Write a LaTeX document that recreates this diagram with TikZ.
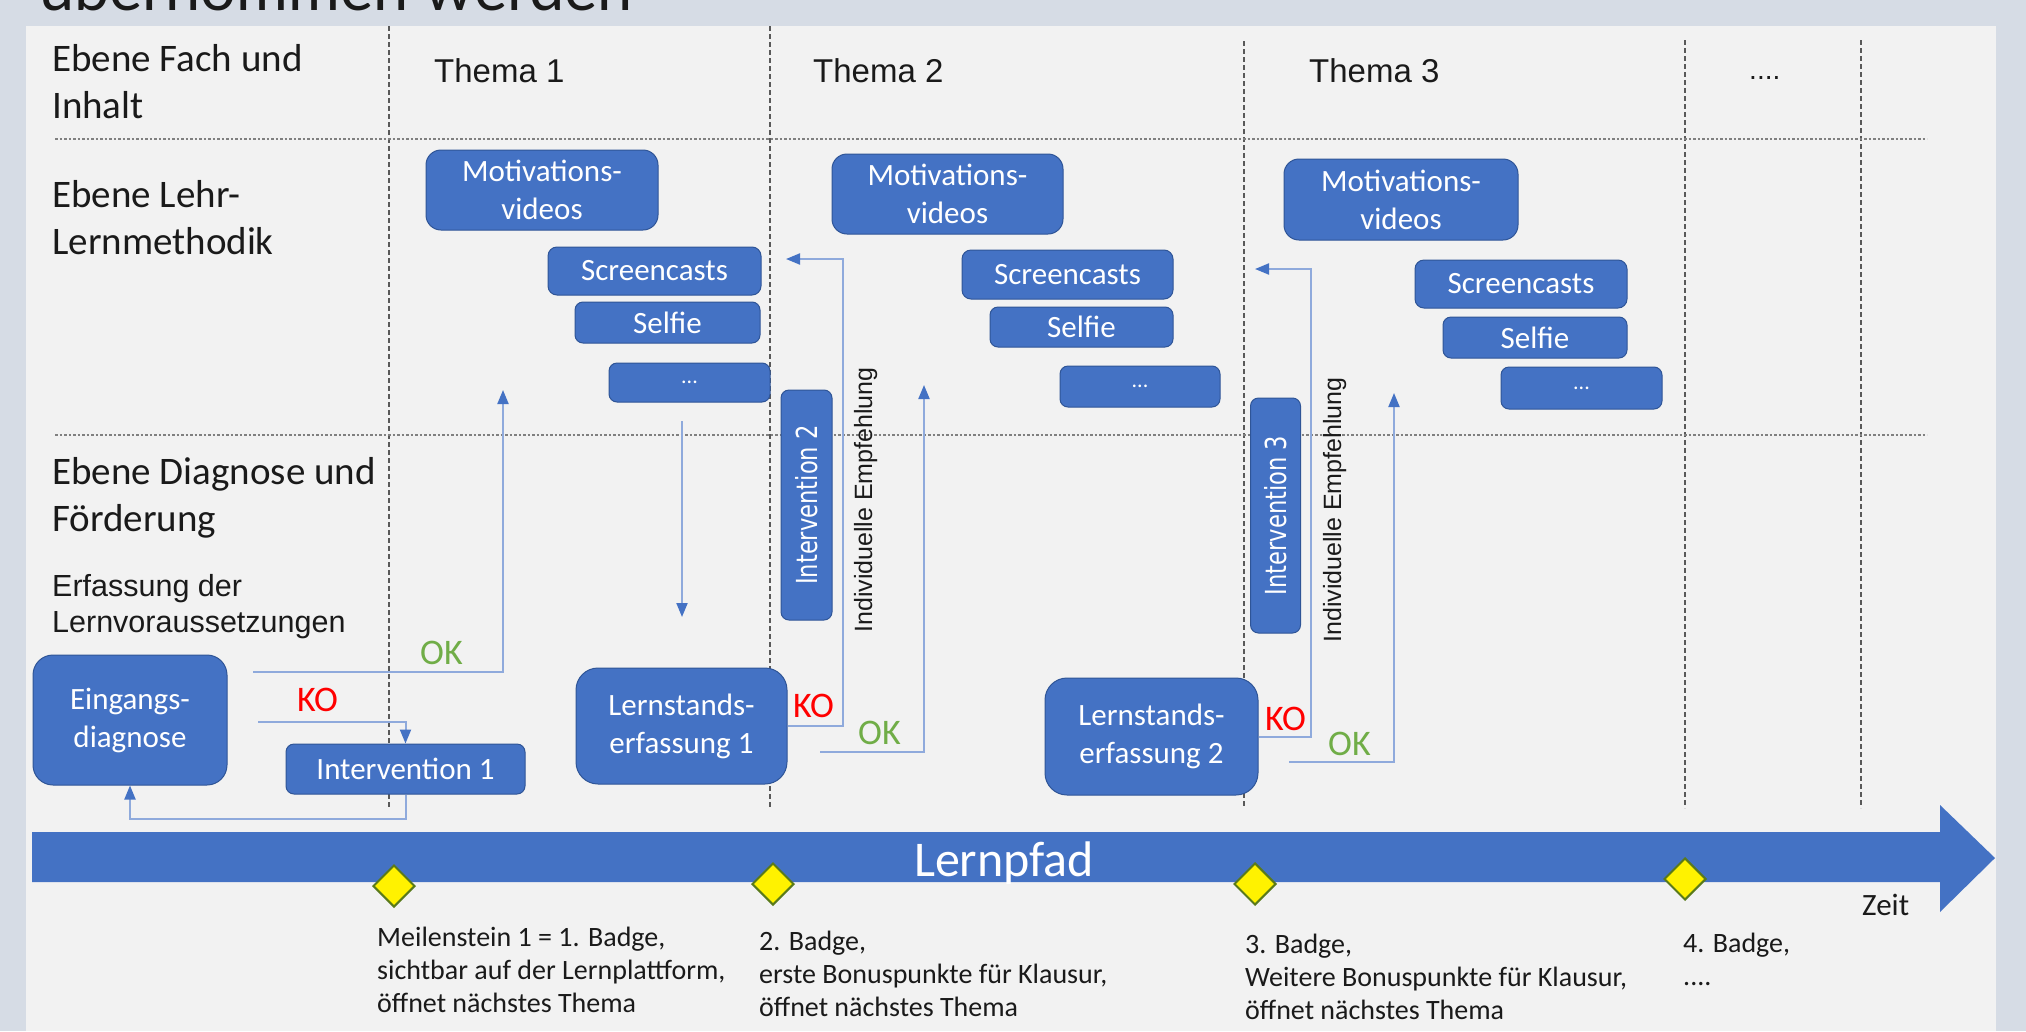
\documentclass[tikz,border=0pt]{standalone}
\usepackage{fontspec}
\setmainfont{Carlito}
\newfontfamily\arialf{Liberation Sans}
\newfontfamily\dejaf{DejaVu Sans}
\newfontfamily\latof{Lato}
\usetikzlibrary{shapes.geometric,arrows.meta}
\definecolor{bgc}{HTML}{D6DCE5}
\definecolor{panelc}{HTML}{F2F2F2}
\definecolor{boxblue}{HTML}{4472C4}
\definecolor{boxedge}{HTML}{2F5597}
\definecolor{connc}{HTML}{8FAADC}
\definecolor{okgreen}{HTML}{70AD47}
\definecolor{kored}{HTML}{FF0000}
\definecolor{dashc}{HTML}{595959}
\definecolor{dotc}{HTML}{808080}
\definecolor{diaedge}{HTML}{5A7A1A}
\definecolor{txtc}{HTML}{1A1A1A}
\tikzset{
  box/.style={draw=boxedge, line width=1pt, fill=boxblue, text=white, align=center,
    inner sep=0pt, font=\fontsize{31}{38}\selectfont},
  vbox/.style={box, rotate=90, rounded corners=8pt},
  conn/.style={draw=connc, line width=2pt},
  arr/.style={-{Triangle[length=14pt,width=11pt,color=boxblue]}},
  vdash/.style={draw=dashc, line width=1.2pt, dash pattern=on 5pt off 3pt},
  hdots/.style={draw=dotc, line width=1.6pt, dash pattern=on 2.5pt off 2pt},
  lbl/.style={anchor=base west, align=left, inner sep=0pt, text=txtc, font=\fontsize{39}{46.5}\selectfont},
  thema/.style={anchor=base west, inner sep=0pt, text=txtc, font=\arialf\fontsize{33}{40}\selectfont},
  mtxt/.style={anchor=base west, align=left, inner sep=0pt, text=txtc, font=\fontsize{28}{33}\selectfont},
  okl/.style={anchor=base west, inner sep=0pt, text=okgreen, font=\fontsize{36}{40}\selectfont},
  kol/.style={anchor=base west, inner sep=0pt, text=kored, font=\fontsize{36}{40}\selectfont},
  empf/.style={anchor=base, rotate=90, inner sep=0pt, text=txtc, font=\arialf\fontsize{25}{29}\selectfont},
  badge/.style={diamond, shape aspect=1, minimum width=42pt, minimum height=42pt, inner sep=0pt,
    fill=yellow, draw=diaedge, line width=2pt}
}
\begin{document}
\begin{tikzpicture}[x=1pt,y=-1pt]
\useasboundingbox (0,0) rectangle (2026,1031);
\clip (0,0) rectangle (2026,1031);
\fill[bgc] (0,0) rectangle (2026,1031);
\fill[panelc] (26,26) rectangle (1996,1031);

% title (cut off at the top)
\node[anchor=base west, inner sep=0pt, text=txtc, font=\latof\fontsize{63}{70}\selectfont] (title) at (39,10) {übernommen werden};

% grid lines
\draw[vdash] (389,26) -- (389,808);
\draw[vdash] (770,26) -- (770,808);
\draw[vdash] (1244,41) -- (1244,808);
\draw[vdash] (1685,40) -- (1685,808);
\draw[vdash] (1861,40) -- (1861,808);
\draw[hdots] (55,139) -- (1927,139);
\draw[hdots] (55,435) -- (1927,435);

% left labels (anchor at baseline of last line)
\node[lbl] (lfach) at (52,118) {Ebene Fach und\\Inhalt};
\node[lbl] (llehr) at (52,254) {Ebene Lehr-\\Lernmethodik};
\node[lbl] (ldiag) at (52,531) {Ebene Diagnose und\\Förderung};
\node[lbl, font=\arialf\fontsize{30.5}{35.5}\selectfont] (lerf) at (52,632) {Erfassung der\\Lernvoraussetzungen};

% Themen
\node[thema] (th1) at (434,82) {Thema 1};
\node[thema] (th2) at (813,82) {Thema 2};
\node[thema] (th3) at (1309,82) {Thema 3};
\node[thema, font=\arialf\fontsize{28}{32}\selectfont] (th4) at (1749,79) {....};

% method boxes
\node[box, rounded corners=15pt, minimum width=232pt, minimum height=80pt] (mv1) at (542,190) {Motivations-\\videos};
\node[box, rounded corners=9pt, minimum width=213pt, minimum height=48pt] (sc1) at (654.5,271) {Screencasts};
\node[box, rounded corners=8pt, minimum width=185pt, minimum height=41pt] (sf1) at (667.5,322.5) {Selfie};
\node[box, rounded corners=8pt, minimum width=161pt, minimum height=39pt] (dt1) at (689.5,382.5) {\fontsize{22}{26}\selectfont ...};

\node[box, rounded corners=15pt, minimum width=231pt, minimum height=80pt] (mv2) at (947.5,194) {Motivations-\\videos};
\node[box, rounded corners=9pt, minimum width=211pt, minimum height=49pt] (sc2) at (1067.5,274.5) {Screencasts};
\node[box, rounded corners=8pt, minimum width=183pt, minimum height=40pt] (sf2) at (1081.5,327) {Selfie};
\node[box, rounded corners=8pt, minimum width=160pt, minimum height=41pt] (dt2) at (1140,386.5) {\fontsize{22}{26}\selectfont ...};

\node[box, rounded corners=15pt, minimum width=234pt, minimum height=81pt] (mv3) at (1401,199.5) {Motivations-\\videos};
\node[box, rounded corners=9pt, minimum width=212pt, minimum height=48pt] (sc3) at (1521,284) {Screencasts};
\node[box, rounded corners=8pt, minimum width=184pt, minimum height=41pt] (sf3) at (1535,337.5) {Selfie};
\node[box, rounded corners=8pt, minimum width=161pt, minimum height=42pt] (dt3) at (1581.5,388) {\fontsize{22}{26}\selectfont ...};

% diagnosis boxes
\node[box, rounded corners=20pt, minimum width=194pt, minimum height=130pt] (eing) at (130,720) {Eingangs-\\diagnose};
\node[box, rounded corners=8pt, minimum width=239pt, minimum height=50pt] (int1) at (405.5,769) {Intervention 1};
\node[box, rounded corners=22pt, minimum width=211pt, minimum height=116pt] (lse1) at (681.5,726) {Lernstands-\\erfassung 1};
\node[box, rounded corners=22pt, minimum width=213pt, minimum height=117pt] (lse2) at (1151.5,736.5) {Lernstands-\\erfassung 2};
\node[vbox, minimum width=230pt, minimum height=51pt, font=\dejaf\fontsize{29}{34}\selectfont] (int2) at (806.5,505) {\scalebox{0.78}[1]{Intervention 2}};
\node[vbox, minimum width=235pt, minimum height=50pt, font=\dejaf\fontsize{29}{34}\selectfont] (int3) at (1275.5,515.5) {\scalebox{0.78}[1]{Intervention 3}};

% connectors
\coordinate (ok1s) at (253,672);
\coordinate (ok1e) at (503,390);
\draw[conn,arr] (ok1s) -| (ok1e);
\coordinate (ko1s) at (258,722);
\draw[conn,arr] (ko1s) -| (int1.north);
\draw[conn,arr] (int1.south) -- ++(0,24) -| (eing.south);
\coordinate (dn1s) at (682,421);
\coordinate (dn1e) at (682,617);
\draw[conn,arr] (dn1s) -- (dn1e);
\coordinate (ie2) at (786,259);
\draw[conn,arr] (lse1.east) -- ++(55,0) |- (ie2);
\coordinate (ok2s) at (820,752);
\coordinate (ok2e) at (924,385);
\draw[conn,arr] (ok2s) -| (ok2e);
\coordinate (ie3) at (1255,269);
\draw[conn,arr] (lse2.east) -- ++(52,0) |- (ie3);
\coordinate (ok3s) at (1289,762);
\coordinate (ok3e) at (1394,393);
\draw[conn,arr] (ok3s) -| (ok3e);

% rotated recommendation labels
\node[empf] (emp2) at (872,500) {Individuelle Empfehlung};
\node[empf] (emp3) at (1341,510) {Individuelle Empfehlung};

% OK / KO labels
\node[okl] (okt1) at (420,664) {OK};
\node[kol] (kot1) at (297,711) {KO};
\node[kol] (kot2) at (793,717) {KO};
\node[okl] (okt2) at (858,744) {OK};
\node[kol] (kot3) at (1265,730) {KO};
\node[okl] (okt3) at (1328,755) {OK};

% learning path arrow
\fill[boxblue] (32,832) -- (1940,832) -- (1940,805) -- (1995,858) -- (1940,912) -- (1940,882) -- (32,882) -- cycle;
\node[anchor=base, inner sep=0pt, text=white, font=\fontsize{50}{58}\selectfont] (pfad) at (1004,876) {Lernpfad};
\node[anchor=base west, inner sep=0pt, text=txtc, font=\fontsize{31}{36}\selectfont] (zeit) at (1862,915) {Zeit};

% badges
\node[badge] (d1) at (394,886) {};
\node[badge] (d2) at (773,884) {};
\node[badge] (d3) at (1255,884) {};
\node[badge] (d4) at (1685,879) {};

% milestone texts (anchor at baseline of last line)
\node[mtxt] (m1) at (377,1012) {Meilenstein 1 = 1. Badge,\\sichtbar auf der Lernplattform,\\öffnet nächstes Thema};
\node[mtxt] (m2) at (759,1016) {2. Badge,\\erste Bonuspunkte für Klausur,\\öffnet nächstes Thema};
\node[mtxt] (m3) at (1245,1019) {3. Badge,\\Weitere Bonuspunkte für Klausur,\\öffnet nächstes Thema};
\node[mtxt] (m4) at (1683,985) {4. Badge,\\....};
\end{tikzpicture}
\end{document}
